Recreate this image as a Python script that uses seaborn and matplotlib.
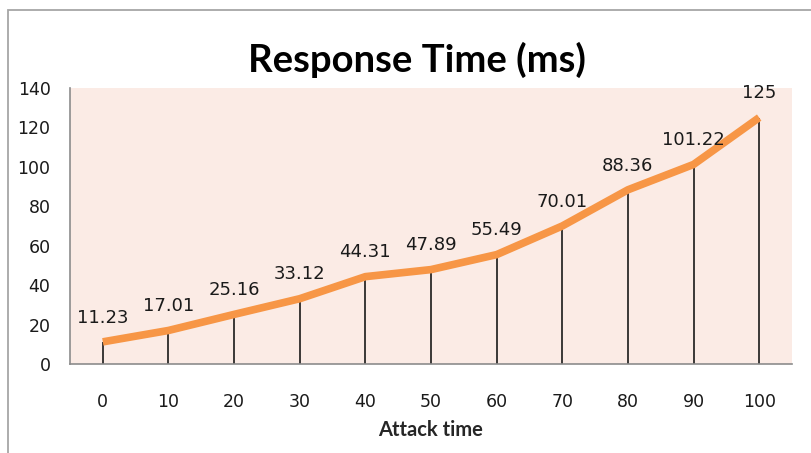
import numpy as np
import pandas as pd
import matplotlib
matplotlib.use("Agg")
import matplotlib.pyplot as plt
from matplotlib.patches import Rectangle
import seaborn as sns

attack_time = [0, 10, 20, 30, 40, 50, 60, 70, 80, 90, 100]
response_ms = [11.23, 17.01, 25.16, 33.12, 44.31, 47.89, 55.49, 70.01, 88.36, 101.22, 125]
value_labels = ["11.23", "17.01", "25.16", "33.12", "44.31", "47.89", "55.49",
                "70.01", "88.36", "101.22", "125"]
y_ticks = [0, 20, 40, 60, 80, 100, 120, 140]

df = pd.DataFrame({"pos": np.arange(len(attack_time)),
                   "attack": attack_time,
                   "response": response_ms})

sns.set_style("white")
plt.rcParams["font.family"] = ["DejaVu Sans"]

fig = plt.figure(figsize=(8.11, 4.53), dpi=100)
ax = fig.add_axes([70 / 811, 1 - 364 / 453, 722 / 811, 276 / 453])
ax.set_facecolor("#FBEBE5")

# frame around the whole chart
fig.patches.append(Rectangle((8 / 811, -0.02), 1.0, 1 - 10 / 453 + 0.02,
                             transform=fig.transFigure, fill=False,
                             edgecolor="#A6A6A6", linewidth=1.3, zorder=0))

# drop lines from each point to the axis
ax.vlines(df["pos"], 0, df["response"], colors="#1a1a1a", linewidth=1.2, zorder=2)

sns.lineplot(data=df, x="pos", y="response", ax=ax, color="#F79646",
             linewidth=5.5, solid_capstyle="butt", zorder=3)

for p, v, t in zip(df["pos"], df["response"], value_labels):
    ax.annotate(t, (p, v), xytext=(0, 11), textcoords="offset points",
                ha="center", va="bottom", fontsize=13, color="#1a1a1a")

ax.set_xlim(-0.5, len(attack_time) - 0.5)
ax.set_ylim(0, 140)
ax.set_xticks(df["pos"])
ax.set_xticklabels([str(a) for a in attack_time])
ax.set_yticks(y_ticks)
ax.tick_params(axis="x", length=0, pad=21, labelsize=12.5, labelcolor="#1a1a1a")
ax.tick_params(axis="y", length=0, pad=14, labelsize=12.5, labelcolor="#1a1a1a")

for side in ("top", "right"):
    ax.spines[side].set_visible(False)
for side in ("left", "bottom"):
    ax.spines[side].set_color("#8C8C8C")
    ax.spines[side].set_linewidth(1.2)

ax.set_xlabel("Attack time", fontsize=14.5, fontweight="bold", family="Lato", labelpad=6)
ax.set_ylabel("")

fig.text(417 / 811, 1 - 60 / 453, "Response Time (ms)", ha="center", va="center",
         fontsize=27.5, fontweight="bold", family="Lato", color="black")

fig.savefig("out.png", dpi=100)
